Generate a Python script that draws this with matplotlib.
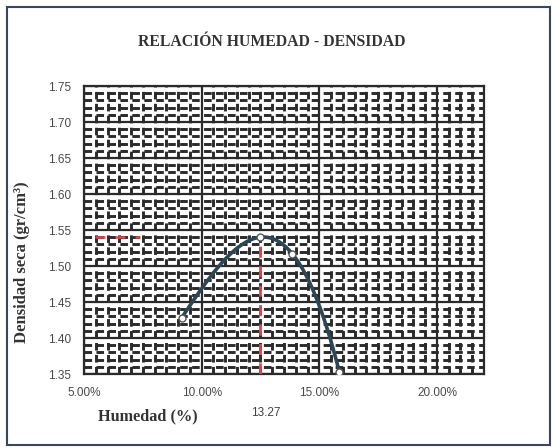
import numpy as np
import matplotlib.pyplot as plt
from matplotlib.ticker import MultipleLocator, FuncFormatter
from matplotlib.patches import Rectangle

# data
humedad = [9.15, 12.50, 13.85, 15.85]      # %
densidad = [1.428, 1.540, 1.517, 1.353]    # gr/cm3
opt_humedad = 12.50
max_densidad = 1.540
opt_label = "13.27"

x_ticks = [5, 10, 15, 20]
y_ticks = [1.35, 1.40, 1.45, 1.50, 1.55, 1.60, 1.65, 1.70, 1.75]

fig = plt.figure(figsize=(5.53, 4.48), dpi=100)
ax = fig.add_axes([84 / 553, 1 - 374 / 448, 400 / 553, 288 / 448])

# dense excel-like grid
ax.xaxis.set_major_locator(MultipleLocator(5))
ax.xaxis.set_minor_locator(MultipleLocator(0.5))
ax.yaxis.set_major_locator(MultipleLocator(0.05))
ax.yaxis.set_minor_locator(MultipleLocator(0.01))
ax.grid(which='major', color='#2a2a2a', lw=1.6, ls='-')
ax.grid(which='minor', color='#2a2a2a', lw=2.1, ls=(0, (2.6, 1.5)))
ax.set_axisbelow(True)
ax.tick_params(which='both', length=0)

# smooth curve through the 4 points (cubic)
coef = np.polyfit(humedad, densidad, 3)
xs = np.linspace(humedad[0], humedad[-1], 200)
ax.plot(xs, np.polyval(coef, xs), color='#2d4655', lw=2.6, zorder=3)
ax.plot(humedad, densidad, 'o', ms=5, mfc='white', mec='#555555', mew=1, zorder=4)

# optimum lines
ax.plot([5.45, 7.4], [max_densidad, max_densidad], color='#e0454a', lw=1.8,
        ls=(0, (4, 4)), zorder=3)
ax.plot([opt_humedad, opt_humedad], [1.35, max_densidad], color='#e0454a', lw=2,
        ls=(0, (4, 3)), zorder=3)

ax.set_xlim(5, 22)
ax.set_ylim(1.35, 1.75)
ax.set_xticks(x_ticks)
ax.set_yticks(y_ticks)
ax.xaxis.set_major_formatter(FuncFormatter(lambda v, p: f"{v:.2f}%"))
ax.yaxis.set_major_formatter(FuncFormatter(lambda v, p: f"{v:.2f}"))
for lab in ax.get_xticklabels() + ax.get_yticklabels():
    lab.set_fontfamily('Liberation Sans')
    lab.set_fontsize(8.5)
    lab.set_color('#4a4a4a')
ax.tick_params(axis='x', pad=9)
ax.tick_params(axis='y', pad=9)
for s in ax.spines.values():
    s.set_color('#2a2a2a')
    s.set_linewidth(1.6)

fig.text(272 / 553, 1 - 42 / 448, "RELACIÓN HUMEDAD - DENSIDAD", ha='center', va='center',
         fontfamily='Liberation Serif', fontweight='bold', fontsize=11.3, color='#333333')
fig.text(22 / 553, 1 - 262 / 448, "Densidad seca (gr/cm³)", ha='center', va='center',
         rotation=90, fontfamily='Liberation Serif', fontweight='bold', fontsize=12,
         color='#333333')
fig.text(148 / 553, 1 - 416 / 448, "Humedad (%)", ha='center', va='center',
         fontfamily='Liberation Serif', fontweight='bold', fontsize=11.7, color='#333333')
fig.text(266 / 553, 1 - 413 / 448, opt_label, ha='center', va='center',
         fontfamily='Liberation Sans', fontsize=8.5, color='#404040')

# outer frame
fig.patches.append(Rectangle((7 / 553, 3 / 448), 543 / 553, 438 / 448, transform=fig.transFigure,
                             fill=False, edgecolor='#3a4560', lw=1.5))

fig.savefig('out.png', dpi=100)
